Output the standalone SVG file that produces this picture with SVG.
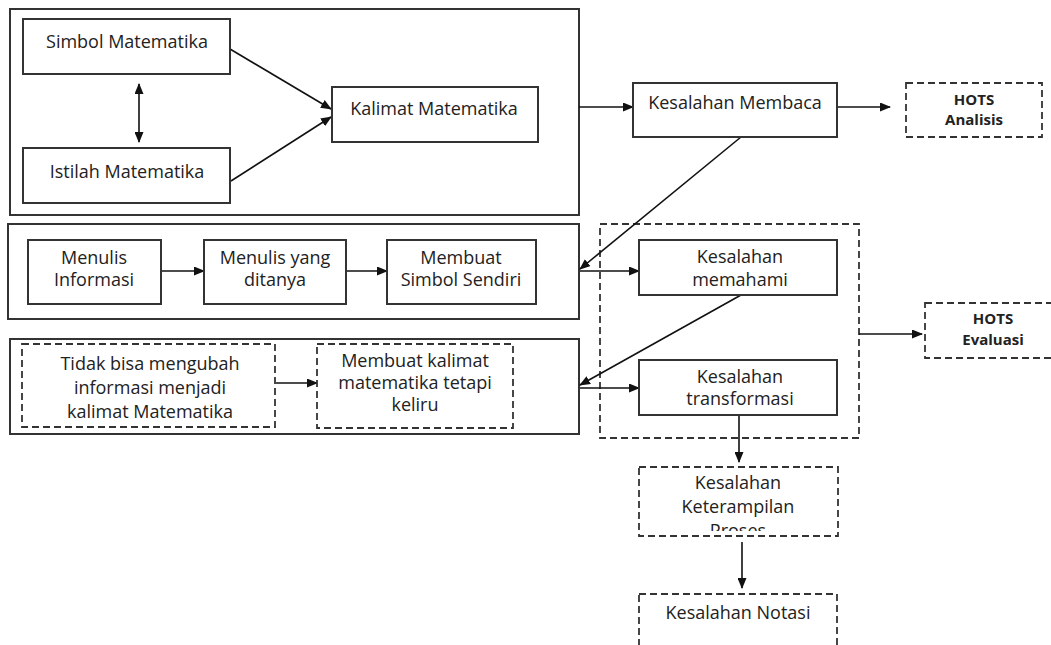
<svg xmlns="http://www.w3.org/2000/svg" width="1051" height="645" viewBox="0 0 1051 645">
<style>
.bx{fill:#fff;stroke:#333;stroke-width:2}
.ob{fill:none;stroke:#333;stroke-width:2}
.ds{fill:#fff;stroke:#333;stroke-width:1.8;stroke-dasharray:7 4}
.dn{fill:none;stroke:#333;stroke-width:1.8;stroke-dasharray:7 4}
.t{font-family:'Open Sans','Liberation Sans',sans-serif;font-size:18px;fill:#222;text-anchor:middle}
.h{font-family:'Open Sans','Liberation Sans',sans-serif;font-size:15px;font-weight:bold;fill:#222;text-anchor:middle}
.c{fill:none;stroke:#111;stroke-width:1.6}
</style>
<defs>
<marker id="ah" markerUnits="userSpaceOnUse" markerWidth="11" markerHeight="9" refX="10" refY="4.5" orient="auto-start-reverse">
<path d="M0,0 L11,4.5 L0,9 z" fill="#111"/>
</marker>
<clipPath id="clipK"><rect x="639" y="467" width="199" height="64"/></clipPath>
</defs>
<rect width="1051" height="645" fill="#fff"/>

<g id="outer1"><rect class="ob" x="10" y="9" width="569" height="206"/></g>
<g id="outer2"><rect class="ob" x="8" y="224" width="571" height="95"/></g>
<g id="outer3"><rect class="ob" x="10" y="339" width="569" height="95"/></g>
<g id="group-dashed"><rect class="dn" x="600" y="224" width="259" height="214"/></g>

<g id="connectors">
<line class="c" x1="230" y1="49" x2="331" y2="109" marker-end="url(#ah)"/>
<line class="c" x1="231" y1="181" x2="331" y2="117" marker-end="url(#ah)"/>
<line class="c" x1="139" y1="84" x2="139" y2="142" marker-start="url(#ah)" marker-end="url(#ah)"/>
<line class="c" x1="579" y1="107" x2="633" y2="107" marker-end="url(#ah)"/>
<line class="c" x1="837" y1="107" x2="890" y2="107" marker-end="url(#ah)"/>
<line class="c" x1="741" y1="137" x2="580" y2="269" marker-end="url(#ah)"/>
<line class="c" x1="580" y1="271" x2="639" y2="271" marker-end="url(#ah)"/>
<line class="c" x1="741" y1="295" x2="580" y2="385" marker-end="url(#ah)"/>
<line class="c" x1="580" y1="388" x2="639" y2="388" marker-end="url(#ah)"/>
<line class="c" x1="859" y1="334" x2="922" y2="334" marker-end="url(#ah)"/>
<line class="c" x1="739" y1="415" x2="739" y2="462" marker-end="url(#ah)"/>
<line class="c" x1="742" y1="542" x2="742" y2="588" marker-end="url(#ah)"/>
<line class="c" x1="161" y1="271" x2="204" y2="271" marker-end="url(#ah)"/>
<line class="c" x1="346" y1="271" x2="387" y2="271" marker-end="url(#ah)"/>
<line class="c" x1="276" y1="383" x2="317" y2="383" marker-end="url(#ah)"/>
</g>

<g id="simbol"><rect class="bx" x="23" y="19" width="207" height="55"/><text class="t" x="127" y="48">Simbol Matematika</text></g>
<g id="istilah"><rect class="bx" x="23" y="148" width="207" height="55"/><text class="t" x="127" y="178">Istilah Matematika</text></g>
<g id="kalimat"><rect class="bx" x="332" y="87" width="206" height="55"/><text class="t" x="434" y="115">Kalimat Matematika</text></g>
<g id="membaca"><rect class="bx" x="633" y="83" width="204" height="54"/><text class="t" x="735" y="109">Kesalahan Membaca</text></g>
<g id="hots-analisis"><rect class="ds" x="906" y="83" width="136" height="54"/><text class="h" x="974" y="105">HOTS</text><text class="h" x="974" y="125">Analisis</text></g>

<g id="menulis-informasi"><rect class="bx" x="28" y="240" width="133" height="64"/><text class="t" x="94" y="264">Menulis</text><text class="t" x="94" y="286">Informasi</text></g>
<g id="menulis-ditanya"><rect class="bx" x="204" y="240" width="142" height="64"/><text class="t" x="275" y="264">Menulis yang</text><text class="t" x="275" y="286">ditanya</text></g>
<g id="membuat-simbol"><rect class="bx" x="387" y="240" width="149" height="64"/><text class="t" x="461" y="264">Membuat</text><text class="t" x="461" y="286">Simbol Sendiri</text></g>

<g id="tidak-bisa"><rect class="ds" x="22" y="344" width="253" height="83"/><text class="t" x="150" y="370">Tidak bisa mengubah</text><text class="t" x="150" y="394">informasi menjadi</text><text class="t" x="150" y="418">kalimat Matematika</text></g>
<g id="membuat-kalimat"><rect class="ds" x="317" y="344" width="196" height="84"/><text class="t" x="415" y="367">Membuat kalimat</text><text class="t" x="415" y="389">matematika tetapi</text><text class="t" x="415" y="411">keliru</text></g>

<g id="memahami"><rect class="bx" x="639" y="240" width="198" height="55"/><text class="t" x="740" y="263">Kesalahan</text><text class="t" x="740" y="286">memahami</text></g>
<g id="transformasi"><rect class="bx" x="639" y="360" width="198" height="55"/><text class="t" x="740" y="383">Kesalahan</text><text class="t" x="740" y="405">transformasi</text></g>
<g id="hots-evaluasi"><rect class="ds" x="925" y="303" width="140" height="55"/><text class="h" x="993" y="324">HOTS</text><text class="h" x="993" y="345">Evaluasi</text></g>

<g id="keterampilan"><rect class="ds" x="639" y="467" width="199" height="69"/><text class="t" x="738" y="489">Kesalahan</text><text class="t" x="738" y="513">Keterampilan</text><text class="t" x="738" y="537" clip-path="url(#clipK)">Proses</text></g>
<g id="notasi"><rect class="ds" x="639" y="594" width="198" height="70"/><text class="t" x="738" y="619">Kesalahan Notasi</text></g>
</svg>
